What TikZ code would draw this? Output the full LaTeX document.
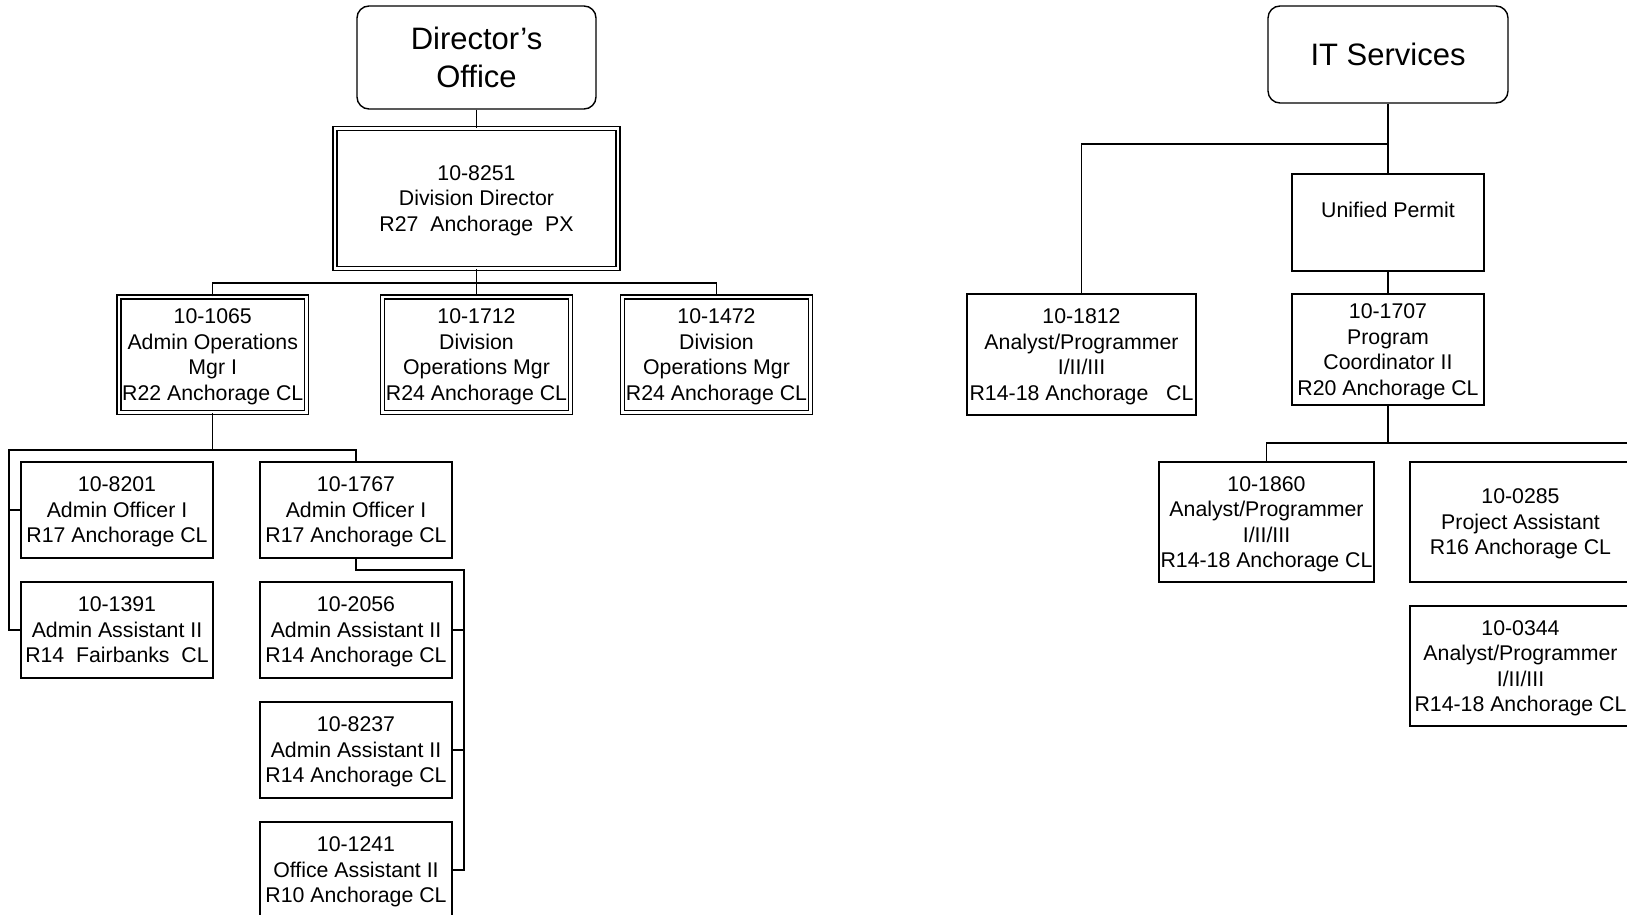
\documentclass[tikz,border=0pt]{standalone}
\usepackage{fontspec}
\setmainfont{Liberation Sans}
\newcommand\lowtxt[1]{\raisebox{-2.2pt}[\height][\depth]{\begin{tabular}{@{}c@{}}#1\end{tabular}}}
\begin{document}
\begin{tikzpicture}[x=1pt,y=-1pt,
  every node/.style={inner sep=0pt,align=center,font=\fontsize{21.3}{25.5}\selectfont},
  unitbox/.style={draw,line width=1.4pt,rounded corners=12pt,font=\fontsize{31}{38}\selectfont},
  posbox/.style={draw,line width=1.4pt},
  dblbox/.style={draw,line width=1.2pt,double,double distance=2.8pt},
  conn/.style={line width=1.4pt}]
\useasboundingbox (0,0) rectangle (1627,915);
\clip (0,0) rectangle (1627,915);
% ---------- left tree ----------
\node[unitbox,minimum width=239pt,minimum height=103pt] (dir) at (476.5,57.5) {Director’s\\Office};
\node[dblbox,minimum width=283pt,minimum height=140pt] (dd) at (476.5,198.5) {\lowtxt{10-8251\\Division Director\\R27~ Anchorage~ PX}};
\node[dblbox,minimum width=187.5pt,minimum height=115.5pt] (p1065) at (212.75,354.75) {\lowtxt{10-1065\\Admin Operations\\Mgr I\\R22 Anchorage CL}};
\node[dblbox,minimum width=187.5pt,minimum height=115.5pt] (p1712) at (476.5,354.75) {\lowtxt{10-1712\\Division\\Operations Mgr\\R24 Anchorage CL}};
\node[dblbox,minimum width=187.5pt,minimum height=115.5pt] (p1472) at (716.5,354.75) {\lowtxt{10-1472\\Division\\Operations Mgr\\R24 Anchorage CL}};
\node[posbox,minimum width=192pt,minimum height=96pt] (p8201) at (117,510) {\lowtxt{10-8201\\Admin Officer I\\R17 Anchorage CL}};
\node[posbox,minimum width=192pt,minimum height=96pt] (p1391) at (117,630) {\lowtxt{10-1391\\Admin Assistant II\\R14~ Fairbanks~ CL}};
\node[posbox,minimum width=192pt,minimum height=96pt] (p1767) at (356,510) {\lowtxt{10-1767\\Admin Officer I\\R17 Anchorage CL}};
\node[posbox,minimum width=192pt,minimum height=96pt] (p2056) at (356,630) {\lowtxt{10-2056\\Admin Assistant II\\R14 Anchorage CL}};
\node[posbox,minimum width=192pt,minimum height=96pt] (p8237) at (356,750) {\lowtxt{10-8237\\Admin Assistant II\\R14 Anchorage CL}};
\node[posbox,minimum width=192pt,minimum height=96pt] (p1241) at (356,870) {\lowtxt{10-1241\\Office Assistant II\\R10 Anchorage CL}};
\coordinate (busA) at (476.5,283);
\coordinate (busL) at (9,450);
\coordinate (busR) at (464,570);
\draw[conn] (dir.south) -- (dd.north);
\draw[conn] (dd.south) -- (p1712.north);
\draw[conn] (p1065.north) |- (busA) -| (p1472.north);
\draw[conn] (p1065.south) -- (p1065.south |- busL);
\draw[conn] (p1391.west) -| (busL) -| (p1767.north);
\draw[conn] (p8201.west) -| (busL);
\draw[conn] (p1767.south) |- (busR) |- (p1241.east);
\draw[conn] (p2056.east) -| (busR);
\draw[conn] (p8237.east) -| (busR);
% ---------- right tree ----------
\node[unitbox,minimum width=240pt,minimum height=97pt] (it) at (1388,54.5) {IT Services};
\node[posbox,minimum width=192pt,minimum height=97pt] (up) at (1388,222.5) {};
\node (uptext) at (1388,209.5) {Unified Permit};
\node[posbox,minimum width=229pt,minimum height=121pt] (p1812) at (1081.5,354.5) {\lowtxt{10-1812\\Analyst/Programmer\\I/II/III\\R14-18 Anchorage\ \ \ CL}};
\node[posbox,minimum width=192pt,minimum height=111pt] (p1707) at (1388,349.5) {\lowtxt{10-1707\\Program\\Coordinator II\\R20 Anchorage CL}};
\node[posbox,minimum width=215pt,minimum height=120pt] (p1860) at (1266.5,522) {\lowtxt{10-1860\\Analyst/Programmer\\I/II/III\\R14-18 Anchorage CL}};
\node[posbox,minimum width=221pt,minimum height=120pt] (p0285) at (1520.5,522) {\lowtxt{10-0285\\Project Assistant\\R16 Anchorage CL}};
\node[posbox,minimum width=221pt,minimum height=120pt] (p0344) at (1520.5,666) {\lowtxt{10-0344\\Analyst/Programmer\\I/II/III\\R14-18 Anchorage CL}};
\coordinate (itbus) at (1388,144);
\coordinate (pcbus) at (1388,443);
\coordinate (pcedge) at (1627,443);
\draw[conn] (it.south) -- (up.north);
\draw[conn] (p1812.north) |- (itbus);
\draw[conn] (up.south) -- (p1707.north);
\draw[conn] (p1707.south) -- (pcbus);
\draw[conn] (p1860.north) |- (pcedge);
\end{tikzpicture}
\end{document}
